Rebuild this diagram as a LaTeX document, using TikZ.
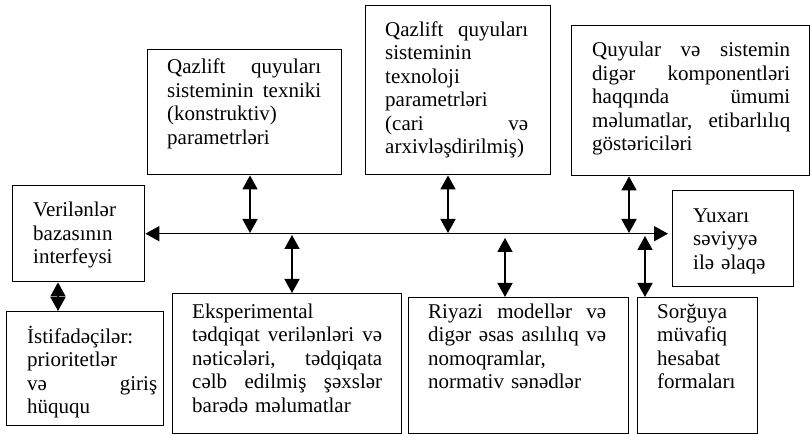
\documentclass[tikz,border=0pt]{standalone}
\usepackage{fontspec}
\setmainfont{Liberation Serif}
\usetikzlibrary{arrows.meta}
\newcommand\fsz{\fontsize{21pt}{23.5pt}\selectfont}
\newcommand\topstr{\rule{0pt}{19pt}}
\tikzset{
  box/.style={draw, line width=1.4pt, anchor=north west, inner sep=0pt},
  txt/.style={anchor=north west, inner sep=0pt, align=left, font=\fsz},
  conn/.style={line width=1.6pt, {Triangle[length=14pt,width=15pt]}-{Triangle[length=14pt,width=15pt]}}
}
\begin{document}
\begin{tikzpicture}[x=1pt,y=-1pt]
\path[fill=white,use as bounding box] (0,0) rectangle (812,435);
% boxes
\node[box, minimum width=132pt, minimum height=96pt] (ver) at (12,185) {};
\node[box, minimum width=157pt, minimum height=114pt] (ist) at (6,311) {};
\node[box, minimum width=194pt, minimum height=125pt] (tex) at (147,49) {};
\node[box, minimum width=185pt, minimum height=169pt] (tno) at (365,5) {};
\node[box, minimum width=238pt, minimum height=150pt] (quy) at (571,25) {};
\node[box, minimum width=121pt, minimum height=96pt] (yux) at (672,190) {};
\node[box, minimum width=229pt, minimum height=140pt] (eks) at (172,293) {};
\node[box, minimum width=220pt, minimum height=136pt] (riy) at (408,297) {};
\node[box, minimum width=120pt, minimum height=136pt] (sor) at (637,297) {};
% texts
\node[txt, text width=105pt] (ver-t) at (33,197.5) {\topstr Verilənlər\\bazasının\\interfeysi};
\node[txt, text width=130pt] (ist-t) at (27,324) {\topstr İstifadəçilər:\\prioritetlər\\və\hfill giriş\\hüququ};
\node[txt, text width=154pt] (tex-t) at (167,54.5) {\topstr Qazlift\hfill quyuları\\sisteminin\hfill texniki\\(konstruktiv)\\parametrləri};
\node[txt, text width=143pt] (tno-t) at (385,17) {\topstr Qazlift\hfill quyuları\\sisteminin\\texnoloji\\parametrləri\\(cari\hfill və\\arxivləşdirilmiş)};
\node[txt, text width=198pt] (quy-t) at (592,37.7) {\topstr Quyular\hfill və\hfill sistemin\\digər\hfill komponentləri\\haqqında\hfill ümumi\\məlumatlar,\hfill etibarlılıq\\göstəriciləri};
\node[txt, text width=95pt] (yux-t) at (693,203) {\topstr Yuxarı\\səviyyə\\ilə əlaqə};
\node[txt, text width=190pt] (eks-t) at (192,299) {\topstr Eksperimental\\tədqiqat\hfill verilənləri\hfill və\\nəticələri,\hfill tədqiqata\\cəlb\hfill edilmiş\hfill şəxslər\\barədə məlumatlar};
\node[txt, text width=178pt] (riy-t) at (428,299) {\topstr Riyazi\hfill modellər\hfill və\\digər\hfill əsas\hfill asılılıq\hfill və\\nomoqramlar,\\normativ sənədlər};
\node[txt, text width=95pt] (sor-t) at (657,299) {\topstr Sorğuya\\müvafiq\\hesabat\\formaları};
% bus points
\coordinate (p1) at (250,233);
\coordinate (p2) at (292,235);
\coordinate (p3) at (448,233);
\coordinate (p4) at (505,238);
\coordinate (p5) at (629,233);
\coordinate (p6) at (645,236);
\coordinate (p7) at (58,296);
% connectors
\draw[conn] (ver.east) -- ([xshift=-4pt]ver.east -| yux.west);
\draw[conn] (p1 |- tex.south) -- (p1);
\draw[conn] (p2) -- (p2 |- eks.north);
\draw[conn] (p3 |- tno.south) -- (p3);
\draw[conn] (p4) -- (p4 |- riy.north);
\draw[conn] (p5 |- quy.south) -- (p5);
\draw[conn] (p6) -- (p6 |- sor.north);
\draw[conn] (p7 |- ver.south) -- (p7 |- ist.north);
\end{tikzpicture}
\end{document}
